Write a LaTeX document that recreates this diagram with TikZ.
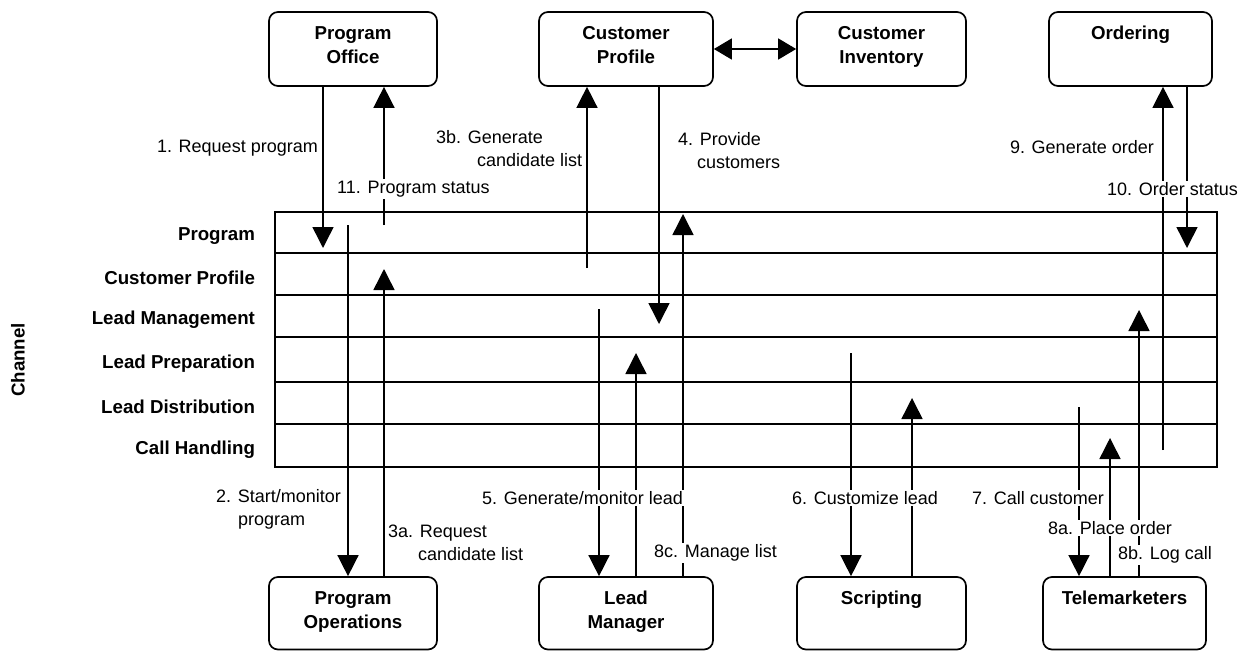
\documentclass[tikz,border=0pt]{standalone}
\usepackage{fontspec}
\setmainfont{Liberation Sans}
\usetikzlibrary{arrows.meta}
\begin{document}
\begin{tikzpicture}[x=1pt,y=-1pt,
  box/.style={draw, line width=1.7pt, rounded corners=9pt, minimum height=74pt, inner sep=0pt},
  boxtxt/.style={anchor=north, yshift=-13pt, inner sep=2pt, align=center, font=\fontsize{18.7}{24}\selectfont\bfseries},
  rowbox/.style={draw, line width=1.7pt, minimum width=942pt, inner sep=0pt},
  rowlbl/.style={inner sep=2pt, yshift=-4pt, font=\fontsize{18.7}{24}\selectfont\bfseries},
  arr/.style={line width=1.5pt, -{Triangle[length=21pt,width=21pt]}},
  dbl/.style={line width=1.5pt, {Triangle[length=18pt,width=21pt]}-{Triangle[length=18pt,width=21pt]}},
  lab/.style={fill=white, inner sep=1.5pt, align=left, font=\fontsize{18}{23}\selectfont}
]
\useasboundingbox (0,0) rectangle (1247,651);

% top boxes
\node[box, minimum width=168pt, label={[boxtxt]north:Program\\Office}] (po) at (353,49) {};
\node[box, minimum width=174pt, label={[boxtxt]north:Customer\\Profile}] (cp) at (626,49) {};
\node[box, minimum width=169pt, label={[boxtxt]north:Customer\\Inventory}] (ci) at (881.5,49) {};
\node[box, minimum width=163pt, label={[boxtxt]north:Ordering}] (ord) at (1130.5,49) {};

% bottom boxes
\node[box, minimum width=168pt, minimum height=72.5pt, label={[boxtxt]north:Program\\Operations}] (pop) at (353,613.25) {};
\node[box, minimum width=174pt, minimum height=72.5pt, label={[boxtxt]north:Lead\\Manager}] (lm) at (626,613.25) {};
\node[box, minimum width=169pt, minimum height=72.5pt, label={[boxtxt]north:Scripting}] (scr) at (881.5,613.25) {};
\node[box, minimum width=163pt, minimum height=72.5pt, label={[boxtxt]north:Telemarketers}] (tm) at (1124.5,613.25) {};

% channel table
\node[rowbox, minimum height=41pt, label={[rowlbl, label distance=17pt]left:Program}] (r1) at (746,232.5) {};
\node[rowbox, minimum height=42pt, label={[rowlbl, label distance=17pt]left:Customer Profile}] (r2) at (746,274) {};
\node[rowbox, minimum height=42pt, label={[rowlbl, label distance=17pt]left:Lead Management}] (r3) at (746,316) {};
\node[rowbox, minimum height=45pt, label={[rowlbl, label distance=17pt]left:Lead Preparation}] (r4) at (746,359.5) {};
\node[rowbox, minimum height=42pt, label={[rowlbl, label distance=17pt]left:Lead Distribution}] (r5) at (746,403) {};
\node[rowbox, minimum height=43pt, label={[rowlbl, label distance=17pt]left:Call Handling}] (r6) at (746,445.5) {};
\node[rotate=90, font=\fontsize{18.7}{24}\selectfont\bfseries] (ch) at (18,360) {Channel};

% connector end points
\coordinate (e1) at (323,248);
\coordinate (s11) at (384,225);
\coordinate (s2) at (348,225);
\coordinate (e3a) at (384,269);
\coordinate (s3b) at (587,268);
\coordinate (e4) at (659,324);
\coordinate (s5) at (599,309);
\coordinate (e5b) at (636,353);
\coordinate (e8c) at (683,214);
\coordinate (s6) at (851,353);
\coordinate (e6b) at (912,398);
\coordinate (s7) at (1079,407);
\coordinate (e8a) at (1110,438);
\coordinate (e8b) at (1139,310);
\coordinate (s9) at (1163,450);
\coordinate (e10) at (1187,248);

% connectors
\draw[arr] (e1 |- po.south) -- (e1);
\draw[arr] (s11) -- (s11 |- po.south);
\draw[arr] (s2) -- (s2 |- pop.north);
\draw[arr] (e3a |- pop.north) -- (e3a);
\draw[arr] (s3b) -- (s3b |- cp.south);
\draw[arr] (e4 |- cp.south) -- (e4);
\draw[arr] (s5) -- (s5 |- lm.north);
\draw[arr] (e5b |- lm.north) -- (e5b);
\draw[arr] (e8c |- lm.north) -- (e8c);
\draw[arr] (s6) -- (s6 |- scr.north);
\draw[arr] (e6b |- scr.north) -- (e6b);
\draw[arr] (s7) -- (s7 |- tm.north);
\draw[arr] (e8a |- tm.north) -- (e8a);
\draw[arr] (e8b |- tm.north) -- (e8b);
\draw[arr] (s9) -- (s9 |- ord.south);
\draw[arr] (e10 |- ord.south) -- (e10);
\draw[dbl] (cp) -- (ci);

% labels
\node[lab, anchor=east] (l1) at (319.5,148) {1. Request program};
\node[lab, anchor=west] (l11) at (335.5,189) {11. Program status};
\node[lab, anchor=west] (l3b) at (434.5,148.5) {3b. Generate\\\hspace*{41pt}candidate list};
\node[lab, anchor=west] (l4) at (676.5,150.5) {4. Provide\\\hspace*{19pt}customers};
\node[lab, anchor=east] (l9) at (1155.5,147) {9. Generate order};
\node[lab, anchor=east] (l10) at (1239.5,189) {10. Order status};
\node[lab, anchor=west] (l2) at (214.5,509.5) {2. Start/monitor\\\hspace*{22pt}program};
\node[lab, anchor=west] (l5) at (480.5,498) {5. Generate/monitor lead};
\node[lab, anchor=west] (l3a) at (386.5,542.5) {3a. Request\\\hspace*{30pt}candidate list};
\node[lab, anchor=west] (l8c) at (652.5,553) {8c. Manage list};
\node[lab, anchor=west] (l6) at (790.5,498) {6. Customize lead};
\node[lab, anchor=west] (l7) at (970.5,498) {7. Call customer};
\node[lab, anchor=west] (l8a) at (1046.5,528) {8a. Place order};
\node[lab, anchor=west] (l8b) at (1116.5,555) {8b. Log call};
\end{tikzpicture}
\end{document}
